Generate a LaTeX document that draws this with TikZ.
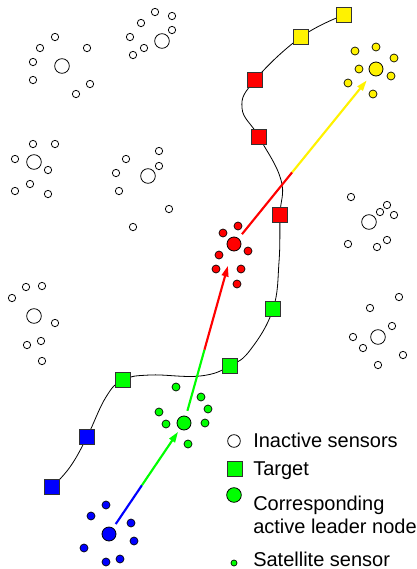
\documentclass[tikz,border=0pt]{standalone}
\usepackage{fontspec}
\setmainfont{Liberation Sans}
\usetikzlibrary{arrows.meta,calc,backgrounds}

\tikzset{
  sensor/.style={circle,draw=black,line width=0.6pt,inner sep=0pt,minimum size=5.5pt},
  head/.style={circle,draw=black,line width=0.6pt,inner sep=0pt,minimum size=11pt},
  sat/.style={circle,draw=black,line width=0.5pt,inner sep=0pt,minimum size=6pt},
  leader/.style={circle,draw=black,line width=0.6pt,inner sep=0pt,minimum size=10.5pt},
  target/.style={rectangle,draw=black!80,line width=0.5pt,inner sep=0pt,minimum size=11pt},
  hop/.style={line width=1.6pt},
  tip/.style={-{Triangle[length=8pt,width=5pt]}},
  legend/.style={anchor=base west,inner sep=0pt,font=\fontsize{15}{18.75}\selectfont},
}

\begin{document}
\begin{tikzpicture}[x=0.75pt,y=0.75pt,yscale=-1,xscale=1]
\useasboundingbox (0,0) rectangle (417,569);

% inactive sensors
\node[head] (ia) at (62,66) {};
\foreach \x/\y [count=\i] in {55/37,40/48,87/48,33/62,33/80,90/84,76/94}
  \node[sensor] (ia\i) at (\x,\y) {};
\node[head] (ib) at (162,41) {};
\foreach \x/\y [count=\i] in {155/12,172/16,141/23,172/30,130/37,144/48,133/55}
  \node[sensor] (ib\i) at (\x,\y) {};
\node[head] (ic) at (34,162) {};
\foreach \x/\y [count=\i] in {33/144,55/144,15/159,48/170,30/184,15/191,48/194}
  \node[sensor] (ic\i) at (\x,\y) {};
\node[head] (id) at (148,176) {};
\foreach \x/\y [count=\i] in {159/151,126/159,159/166,116/173,119/191,169/209,133/227}
  \node[sensor] (id\i) at (\x,\y) {};
\node[head] (ie) at (34,316) {};
\foreach \x/\y [count=\i] in {26/287,42/286,12/298,55/323,27/345,41/341,42/361}
  \node[sensor] (ie\i) at (\x,\y) {};
\node[head] (if) at (369,222) {};
\foreach \x/\y [count=\i] in {351/197,387/205,380/212,394/215,348/244,377/247,387/240}
  \node[sensor] (if\i) at (\x,\y) {};
\node[head] (ig) at (378,337) {};
\foreach \x/\y [count=\i] in {399/297,370/308,392/326,353/337,363/348,403/355,378/365}
  \node[sensor] (ig\i) at (\x,\y) {};

% active clusters
\node[leader,fill=blue] (bl) at (109,534) {};
\foreach \x/\y [count=\i] in {106/505,91/516,131/523,134/541,84/548,106/562,120/559}
  \node[sat,fill=blue] (bs\i) at (\x,\y) {};
\node[leader,fill=green] (gl) at (184,423) {};
\foreach \x/\y [count=\i] in {176/387,201/397,208/409,159/412,166/424,205/423,188/444}
  \node[sat,fill=green] (gs\i) at (\x,\y) {};
\node[leader,fill=red] (rl) at (234,244) {};
\foreach \x/\y [count=\i] in {238/226,223/233,248/251,219/255,216/269,241/269,237/284}
  \node[sat,fill=red] (rs\i) at (\x,\y) {};
\node[leader,fill=yellow] (yl) at (376,69) {};
\foreach \x/\y [count=\i] in {376/47,355/51,394/58,359/69,391/76,348/83,373/94}
  \node[sat,fill=yellow] (ys\i) at (\x,\y) {};

% target track
\node[target,fill=blue] (t1) at (52,487) {};
\node[target,fill=blue] (t2) at (87,437) {};
\node[target,fill=green] (t3) at (123,380) {};
\node[target,fill=green] (t4) at (230,366) {};
\node[target,fill=green] (t5) at (273,309) {};
\node[target,fill=red] (t6) at (280,215) {};
\node[target,fill=red] (t7) at (259,137) {};
\node[target,fill=red] (t8) at (255,80) {};
\node[target,fill=yellow] (t9) at (301,37) {};
\node[target,fill=yellow] (t10) at (344,15) {};
\begin{scope}[on background layer]
\draw[line width=0.6pt] plot[smooth,tension=0.7] coordinates {(t1.center) (70,467) (t2.center) (106,397) (t3.center) (150,375) (200,376) (t4.center) (251,349) (t5.center) (279,262) (t6.center) (281,180) (t7.center) (242,108) (t8.center) (t9.center) (t10.center)};
\end{scope}

% leader hand-over
\draw[hop,blue,shorten <=9pt] (bl.center) -- ($(bl)!0.44!(gl)$);
\draw[hop,green,tip,shorten >=8pt] ($(bl)!0.44!(gl)$) -- (gl.center);
\draw[hop,green,shorten <=9.5pt] (gl.center) -- ($(gl)!0.41!(rl)$);
\draw[hop,red,tip,shorten >=17pt] ($(gl)!0.41!(rl)$) -- (rl.center);
\draw[hop,red,shorten <=9.5pt] (rl.center) -- ($(rl)!0.41!(yl)$);
\draw[hop,yellow,tip,shorten >=11pt] ($(rl)!0.41!(yl)$) -- (yl.center);

% legend
\node[sensor,minimum size=9.5pt] (lg1) at (234,441) {};
\node[legend] (lt1) at (253,447) {Inactive sensors};
\node[target,fill=green] (lg2) at (235,469) {};
\node[legend] (lt2) at (253,475) {Target};
\node[leader,fill=green,minimum size=11pt] (lg3) at (234,495) {};
\node[legend] (lt3) at (253,510) {Corresponding};
\node[legend] (lt3b) at (253,533) {active leader node};
\node[sat,fill=green,minimum size=4.5pt] (lg4) at (234,563) {};
\node[legend] (lt4) at (253,566) {Satellite sensor};
\end{tikzpicture}
\end{document}
